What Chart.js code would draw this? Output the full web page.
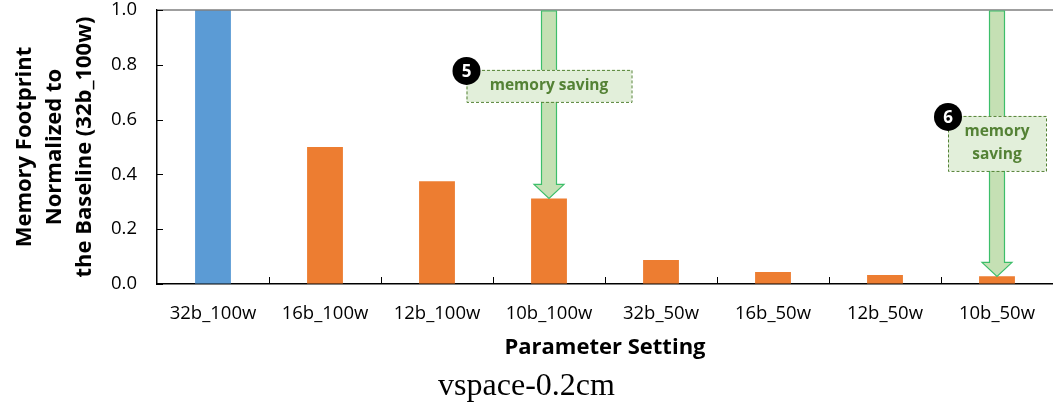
<!DOCTYPE html>
<html>
<head>
<meta charset="utf-8">
<script src="https://cdn.jsdelivr.net/npm/chart.js@4/dist/chart.umd.min.js"></script>
<style>
  body { margin: 0; background: #fff; }
</style>
</head>
<body>
<canvas id="myChart" width="1053" height="408"></canvas>
<script>
// Parameter settings along the x-axis
var settings = ["32b_100w","16b_100w","12b_100w","10b_100w","32b_50w","16b_50w","12b_50w","10b_50w"];
// Memory footprint, normalized to 32b_100w
var footprint = [1.0, 0.5, 0.375, 0.3125, 0.0875, 0.044, 0.033, 0.028];
// Y tick values
var yTicks = [0.0, 0.2, 0.4, 0.6, 0.8, 1.0];

// callouts: which bar the arrow points at, and where the label box sits (y value)
var callouts = [
  { index: 3, badge: "5", text: ["memory saving"], boxY: 0.723, boxW: 165, boxH: 32 },
  { index: 7, badge: "6", text: ["memory", "saving"], boxY: 0.513, boxW: 98, boxH: 55 }
];

var calloutPlugin = {
  id: 'callouts',
  afterDatasetsDraw: function(chart) {
    var ctx = chart.ctx, area = chart.chartArea;
    var xs = chart.scales.x, ys = chart.scales.y;
    ctx.save();
    // top frame line
    ctx.strokeStyle = '#7f7f7f';
    ctx.lineWidth = 1.5;
    ctx.beginPath();
    ctx.moveTo(area.left, area.top);
    ctx.lineTo(area.right, area.top);
    ctx.stroke();

    // inward tick marks
    ctx.strokeStyle = '#000';
    ctx.lineWidth = 1;
    yTicks.forEach(function(v) {
      var y = Math.round(ys.getPixelForValue(v)) + 0.5;
      ctx.beginPath();
      ctx.moveTo(area.left, y);
      ctx.lineTo(area.left + 6, y);
      ctx.stroke();
    });
    var step = (area.right - area.left) / settings.length;
    for (var i = 1; i < settings.length; i++) {
      var x = Math.round(area.left + i * step) + 0.5;
      ctx.beginPath();
      ctx.moveTo(x, area.bottom);
      ctx.lineTo(x, area.bottom - 7);
      ctx.stroke();
    }

    callouts.forEach(function(c) {
      var cx = xs.getPixelForValue(c.index);
      var tip = ys.getPixelForValue(footprint[c.index]);
      var top = area.top + 1;
      var sw = 7.5, hw = 15, hl = 14;
      // arrow
      ctx.beginPath();
      ctx.moveTo(cx - sw, top);
      ctx.lineTo(cx + sw, top);
      ctx.lineTo(cx + sw, tip - hl);
      ctx.lineTo(cx + hw, tip - hl);
      ctx.lineTo(cx, tip);
      ctx.lineTo(cx - hw, tip - hl);
      ctx.lineTo(cx - sw, tip - hl);
      ctx.closePath();
      ctx.fillStyle = '#C5E0B4';
      ctx.fill();
      ctx.strokeStyle = '#3DBE6A';
      ctx.lineWidth = 1.2;
      ctx.stroke();

      // label box
      var by = ys.getPixelForValue(c.boxY);
      var bx0 = cx - c.boxW / 2, by0 = by - c.boxH / 2;
      ctx.fillStyle = '#E2EFDA';
      ctx.fillRect(bx0, by0, c.boxW, c.boxH);
      ctx.setLineDash([3, 2]);
      ctx.strokeStyle = '#548235';
      ctx.lineWidth = 1;
      ctx.strokeRect(bx0 + 0.5, by0 + 0.5, c.boxW, c.boxH);
      ctx.setLineDash([]);
      ctx.fillStyle = '#548235';
      ctx.font = 'bold 15.5px "Open Sans"';
      ctx.textAlign = 'center';
      ctx.textBaseline = 'middle';
      var lh = 23;
      var y0 = by - (c.text.length - 1) * lh / 2;
      c.text.forEach(function(t, k) {
        ctx.fillText(t, cx, y0 + k * lh);
      });

      // numbered badge
      ctx.beginPath();
      ctx.arc(bx0, by0 + 1, 14, 0, Math.PI * 2);
      ctx.fillStyle = '#000';
      ctx.fill();
      ctx.fillStyle = '#fff';
      ctx.font = 'bold 17px "Open Sans"';
      ctx.fillText(c.badge, bx0, by0 + 2);
    });
    ctx.restore();
  }
};

var ctx = document.getElementById("myChart");
var myChart = new Chart(ctx, {
  type: 'bar',
  data: {
    labels: settings,
    datasets: [
      {
        data: footprint,
        backgroundColor: function(c) { return c.dataIndex === 0 ? '#5B9BD5' : '#ED7D31'; },
        barPercentage: 0.32,
        categoryPercentage: 1.0
      }
    ]
  },
  options: {
    responsive: false,
    animation: false,
    layout: { padding: { top: 10, right: 0, left: 0, bottom: 0 } },
    plugins: {
      legend: { display: false },
      tooltip: { enabled: false },
      title: {
        display: true,
        position: 'bottom',
        text: 'vspace-0.2cm',
        color: '#000',
        font: { family: '"Liberation Serif"', size: 32, weight: 'normal', lineHeight: 1.2 },
        padding: { top: 0, bottom: 2 }
      }
    },
    scales: {
      x: {
        afterFit: function(s) { s.height = 83.6; s.paddingLeft = 0; s.paddingRight = 0; },
        grid: { display: true, drawOnChartArea: false, drawTicks: false },
        border: { color: '#000', width: 1.5 },
        ticks: { color: '#000', padding: 19, font: { family: '"Open Sans"', size: 18.5 } },
        title: {
          display: true,
          text: 'Parameter Setting',
          color: '#000',
          font: { family: '"Open Sans"', size: 22, weight: 'bold', lineHeight: 1.2 },
          padding: { top: 0, bottom: 6.4 }
        }
      },
      y: {
        min: 0,
        max: 1,
        afterFit: function(s) { s.width = 157; s.paddingTop = 0; s.paddingBottom = 0; },
        afterBuildTicks: function(s) { s.ticks = yTicks.map(function(v) { return { value: v }; }); },
        grid: { display: true, drawOnChartArea: false, drawTicks: false },
        border: { color: '#000', width: 1.5 },
        ticks: {
          color: '#000',
          padding: 20,
          font: { family: '"Open Sans"', size: 18.5 },
          callback: function(v) { return Number(v).toFixed(1); }
        },
        title: {
          display: true,
          text: ['Memory Footprint', 'Normalized to', 'the Baseline (32b_100w)'],
          color: '#000',
          font: { family: '"Open Sans"', size: 22, weight: 'bold', lineHeight: 1.364 },
          padding: { top: 10, bottom: 0 }
        }
      }
    }
  },
  plugins: [calloutPlugin]
});
</script>
</body>
</html>
